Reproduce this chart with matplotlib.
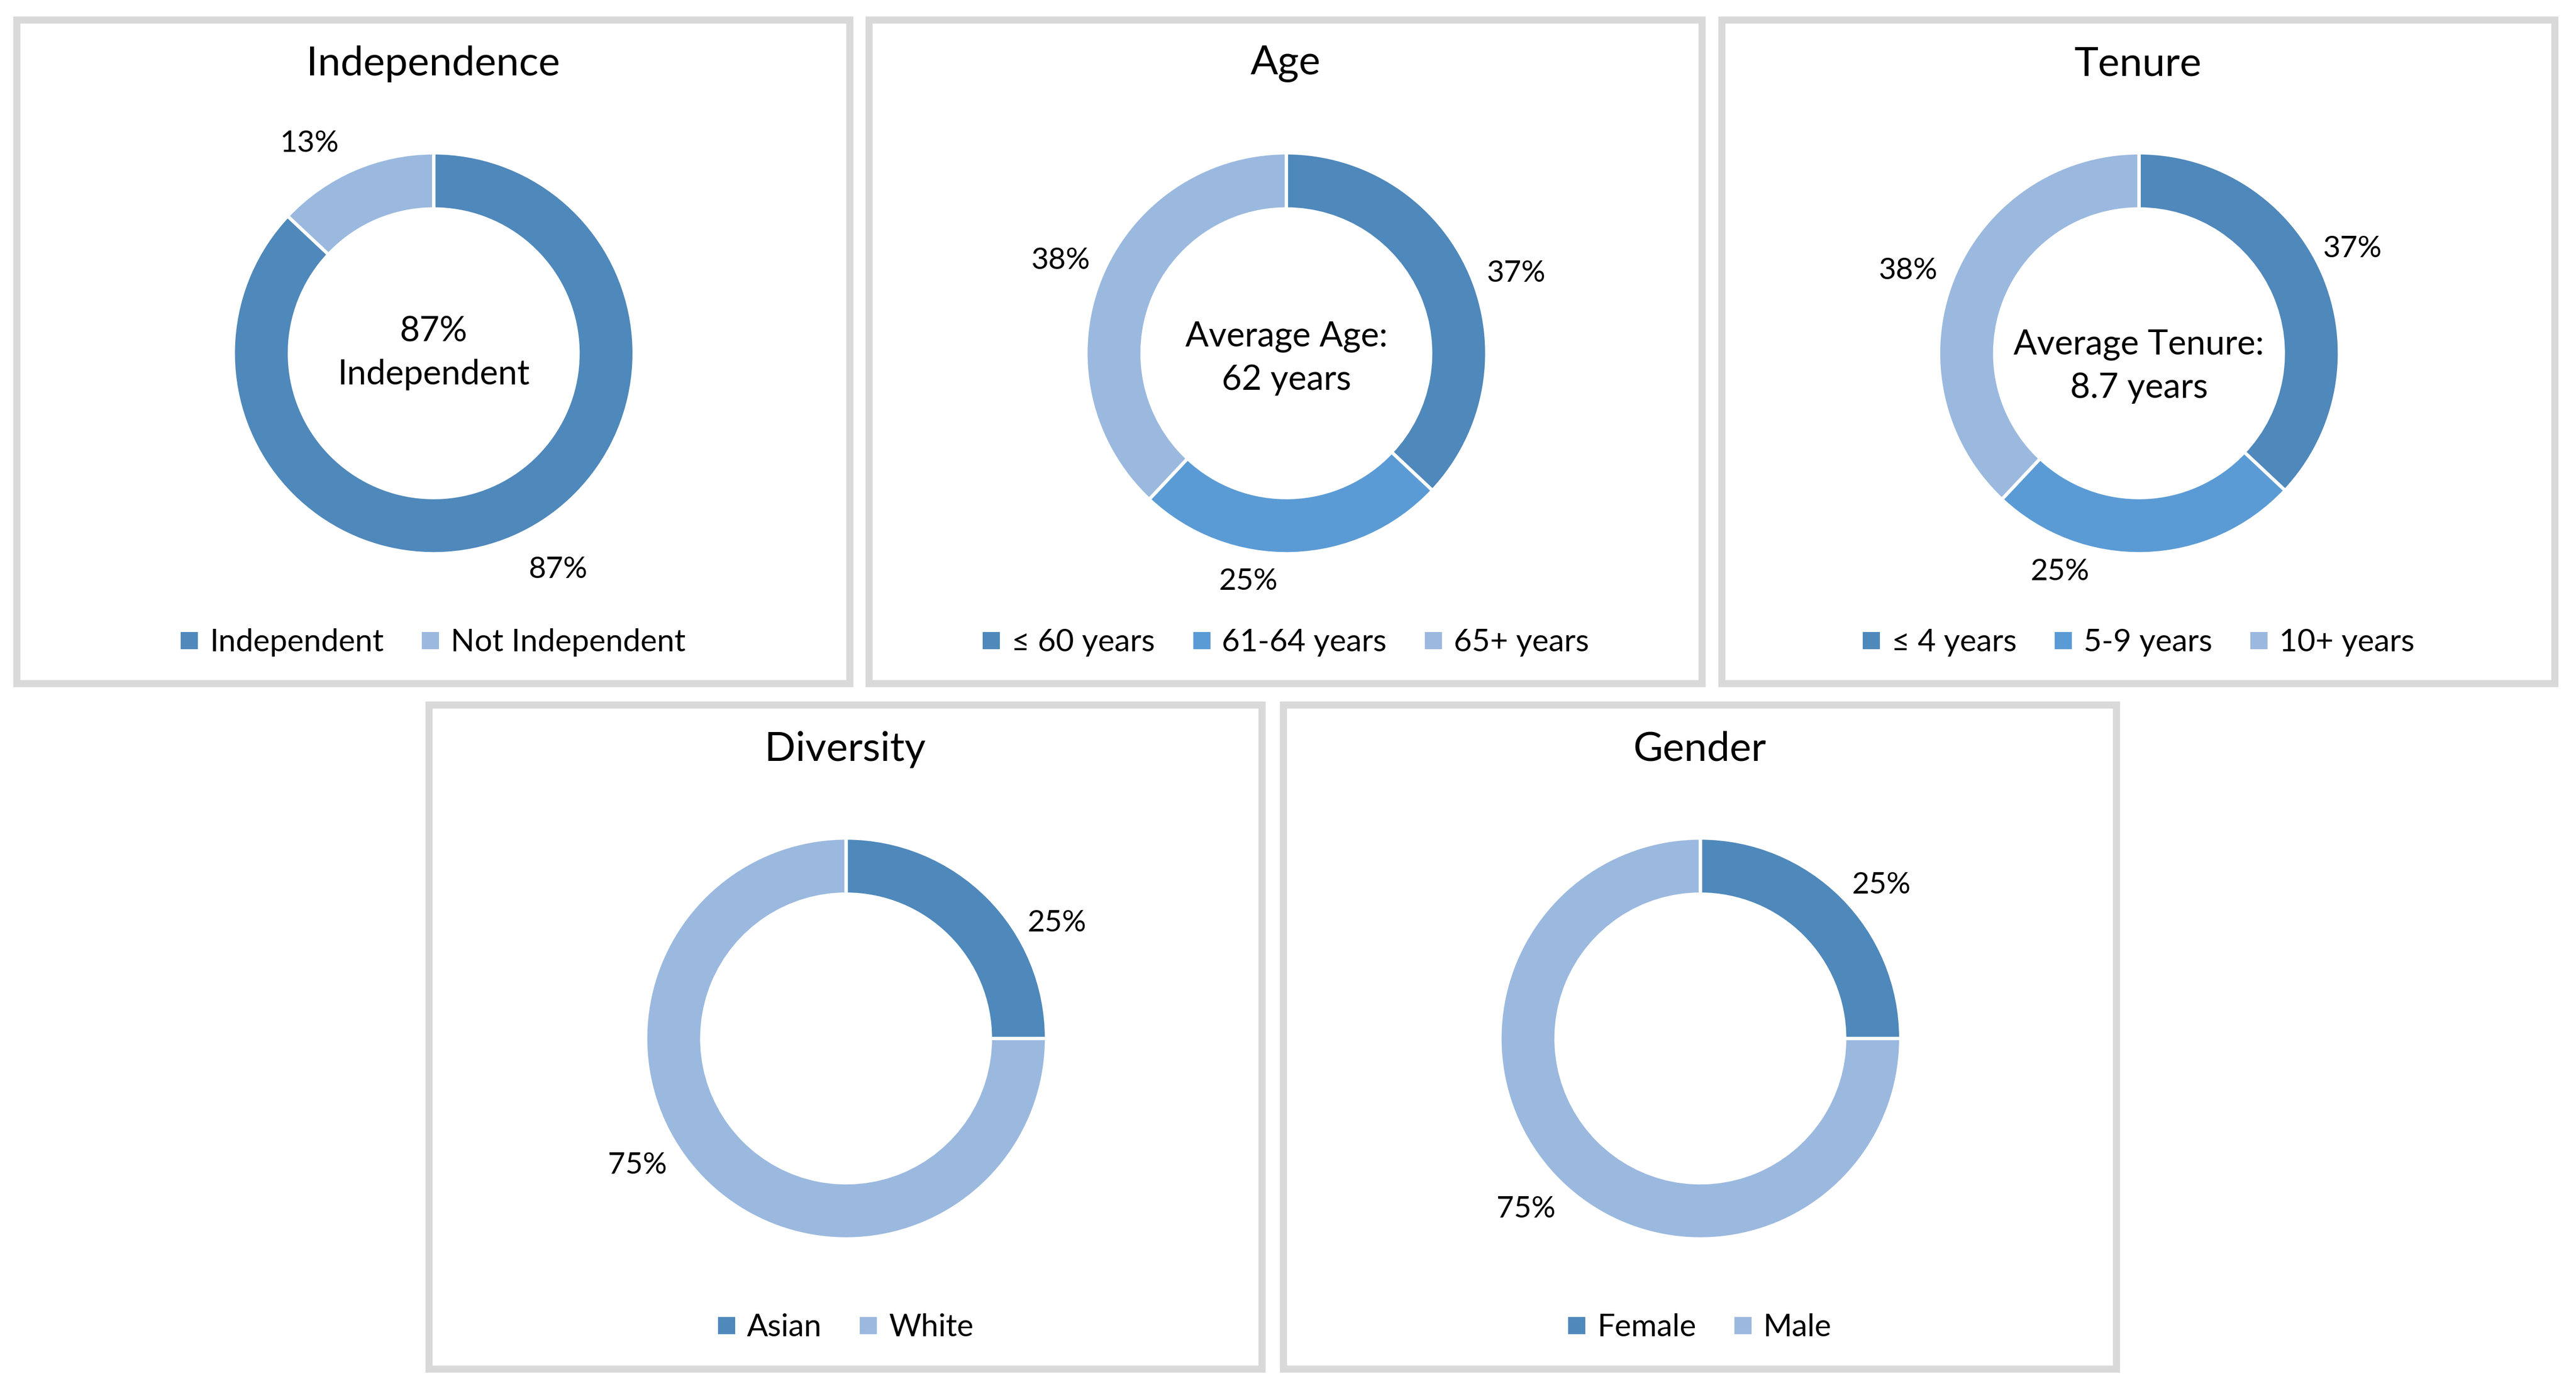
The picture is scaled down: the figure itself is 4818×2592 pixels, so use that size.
import matplotlib.pyplot as plt
from matplotlib.patches import Rectangle
from matplotlib.lines import Line2D

plt.rcParams["font.family"] = ["Lato", "DejaVu Sans"]

# colours (Excel blue shades)
DARK = "#4F88BB"
MID = "#5B9BD5"
LIGHT = "#9BB9DF"
BORDER = "#D9D9D9"

# ------------------------------
# Data
# ------------------------------
titles = ["Independence", "Age", "Tenure", "Diversity", "Gender"]

independence_labels = ["Independent", "Not Independent"]
independence_values = [87, 13]

age_labels = ["≤ 60 years", "61-64 years", "65+ years"]
age_values = [37, 25, 38]

tenure_labels = ["≤ 4 years", "5-9 years", "10+ years"]
tenure_values = [37, 25, 38]

diversity_labels = ["Asian", "White"]
diversity_values = [25, 75]

gender_labels = ["Female", "Male"]
gender_values = [25, 75]

centre_texts = ["87%\nIndependent", "Average Age:\n62 years",
                "Average Tenure:\n8.7 years", "", ""]

all_labels = [independence_labels, age_labels, tenure_labels,
              diversity_labels, gender_labels]
all_values = [independence_values, age_values, tenure_values,
              diversity_values, gender_values]
palettes = [[DARK, LIGHT], [DARK, MID, LIGHT], [DARK, MID, LIGHT],
            [DARK, LIGHT], [DARK, LIGHT]]

# ------------------------------
# Layout (reference grid units)
# ------------------------------
W, H = 1568, 843.5
PW, PH = 511, 408
R = 122  # donut outer radius in grid units
panel_origins = [(8, 10), (527, 10), (1046, 10), (259, 427), (779, 427)]
half = 183  # half side of donut axes

# Excel's "best fit" label placement, as nudges from the pie default (grid px)
label_nudges = [
    [(16, -6), (-16, 10)],
    [(2, 11), (-28, -11), (2, -1)],
    [(-8, -4), (-53, -17), (-1, 5)],
    [(22, 36), (-21, -29)],
    [(4, 13), (0, -2)],
]
centre_dy = [0, -3, -8, 0, 0]

fig = plt.figure(figsize=(16.06, 8.64), dpi=300)
fig.patch.set_facecolor("white")

for i, (x0, y0) in enumerate(panel_origins):
    # panel frame
    inset = 2
    fig.add_artist(Rectangle(((x0 + inset) / W, 1 - (y0 + PH - inset) / H),
                             (PW - 2 * inset) / W, (PH - 2 * inset) / H,
                             transform=fig.transFigure, fill=False,
                             edgecolor=BORDER, linewidth=3.2))

    # title
    fig.text((x0 + PW / 2) / W, 1 - (y0 + 29) / H, titles[i],
             ha="center", va="center", fontsize=18.3, color="black")

    # donut
    cx, cy = x0 + 256, y0 + 205
    ax = fig.add_axes([(cx - half) / W, 1 - (cy + half) / H,
                       2 * half / W, 2 * half / H])

    wedges, texts, autotexts = ax.pie(
        all_values[i], colors=palettes[i], startangle=90, counterclock=False,
        radius=1.0, autopct=lambda p: f"{p:.0f}%", pctdistance=1.23,
        wedgeprops=dict(width=0.28, edgecolor="white", linewidth=1.5),
        textprops=dict(fontsize=13.5, color="black"))
    for t, (dx, dy) in zip(autotexts, label_nudges[i]):
        px, py = t.get_position()
        t.set_position((px + dx / R, py - dy / R))

    ax.set_xlim(-half / R, half / R)
    ax.set_ylim(-half / R, half / R)
    ax.set_aspect("equal")
    ax.axis("off")

    if centre_texts[i]:
        ax.text(0, centre_dy[i] / R, centre_texts[i], ha="center", va="center",
                fontsize=15.5, linespacing=1.45, color="black")

    # legend
    handles = [Line2D([], [], marker="s", linestyle="none", markersize=6.5,
                      markerfacecolor=c, markeredgecolor=c) for c in palettes[i]]
    fig.legend(handles, all_labels[i], loc="center",
               bbox_to_anchor=((x0 + PW / 2) / W, 1 - (y0 + 381) / H),
               ncol=len(handles), frameon=False, fontsize=14,
               handlelength=0.6, handletextpad=0.35, columnspacing=1.2,
               borderpad=0, borderaxespad=0)

fig.savefig("out.png", dpi=300, facecolor="white")
